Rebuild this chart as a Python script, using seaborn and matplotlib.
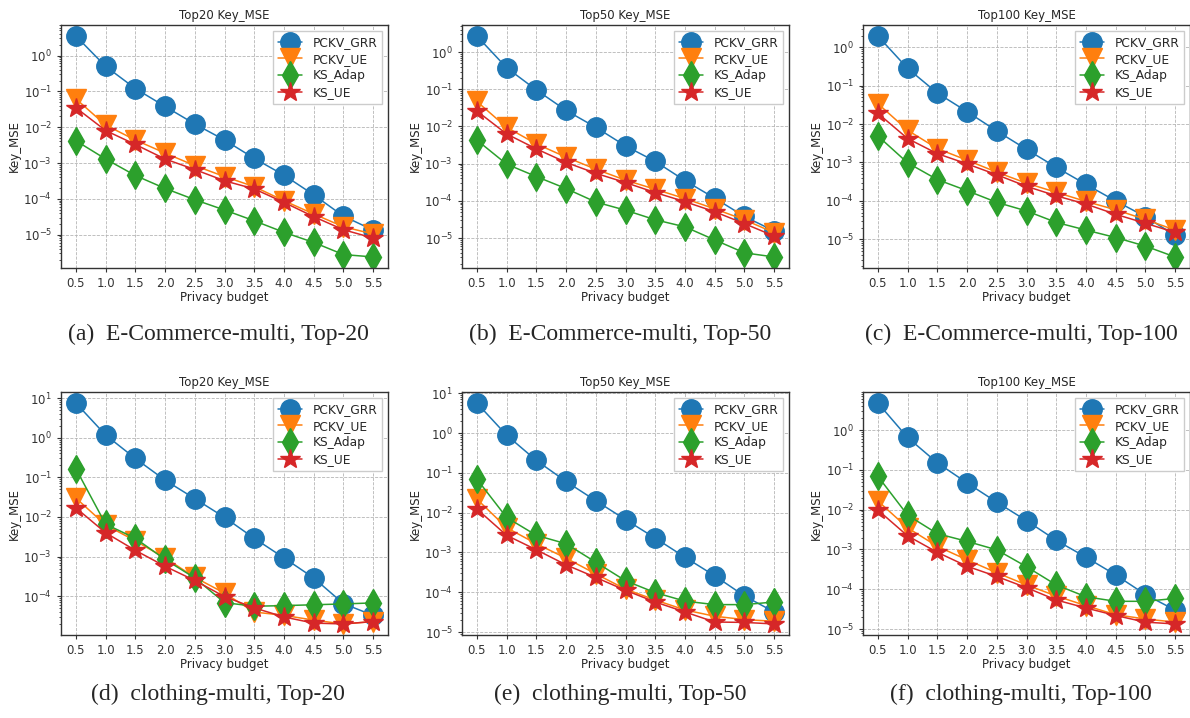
import numpy as np
import pandas as pd
import seaborn as sns
import matplotlib
matplotlib.use("Agg")
import matplotlib.pyplot as plt

# privacy budget (x axis)
eps = [0.5, 1.0, 1.5, 2.0, 2.5, 3.0, 3.5, 4.0, 4.5, 5.0, 5.5]
methods = ['PCKV_GRR', 'PCKV_UE', 'KS_Adap', 'KS_UE']

# E-Commerce-multi
ecom20_grr = [3.5, 0.5, 0.12, 0.038, 0.0123, 0.0044, 0.00135, 4.6e-4, 1.3e-4, 3.3e-5, 1.35e-5]
ecom20_ue = [0.062, 0.0115, 0.0044, 0.0019, 8.5e-4, 4.2e-4, 2.2e-4, 8.9e-5, 3.8e-5, 1.67e-5, 1.05e-5]
ecom20_adap = [0.0042, 0.0013, 4.5e-4, 1.96e-4, 9.5e-5, 4.9e-5, 2.45e-5, 1.17e-5, 6.1e-6, 2.8e-6, 2.4e-6]
ecom20_ksue = [0.035, 0.0081, 0.0033, 0.0013, 6.6e-4, 3.2e-4, 1.9e-4, 8.0e-5, 3.2e-5, 1.38e-5, 8.1e-6]

ecom50_grr = [2.7, 0.38, 0.096, 0.027, 0.0095, 0.003, 0.00115, 3.5e-4, 1.18e-4, 3.8e-5, 1.55e-5]
ecom50_ue = [0.047, 0.0095, 0.0034, 0.0015, 7.1e-4, 3.6e-4, 2.05e-4, 1.15e-4, 6.1e-5, 3.1e-5, 1.39e-5]
ecom50_adap = [0.0043, 9.7e-4, 4.5e-4, 2.14e-4, 9.3e-5, 5.6e-5, 3.1e-5, 2.0e-5, 8.9e-6, 4.0e-6, 3.1e-6]
ecom50_ksue = [0.026, 0.0063, 0.0025, 0.00108, 5.5e-4, 3.1e-4, 1.67e-4, 9.5e-5, 5.1e-5, 2.44e-5, 1.13e-5]

ecom100_grr = [1.94, 0.28, 0.064, 0.021, 0.0066, 0.0022, 7.5e-4, 2.7e-4, 1.0e-4, 3.9e-5, 1.27e-5]
ecom100_ue = [0.034, 0.0069, 0.0023, 0.00115, 5.6e-4, 2.9e-4, 1.68e-4, 9.7e-5, 5.9e-5, 3.3e-5, 1.75e-5]
ecom100_adap = [0.0049, 9.8e-4, 3.6e-4, 1.85e-4, 9.2e-5, 5.5e-5, 2.77e-5, 1.75e-5, 1.12e-5, 6.7e-6, 3.5e-6]
ecom100_ksue = [0.019, 0.0042, 0.0017, 9.2e-4, 4.8e-4, 2.4e-4, 1.36e-4, 8.3e-5, 4.5e-5, 2.63e-5, 1.52e-5]

# clothing-multi
cloth20_grr = [7.5, 1.17, 0.30, 0.085, 0.029, 0.0098, 0.0029, 9.3e-4, 2.9e-4, 6.5e-5, 3.3e-5]
cloth20_ue = [0.030, 0.0063, 0.0025, 9.3e-4, 3.0e-4, 1.2e-4, 4.0e-5, 3.3e-5, 2.5e-5, 2.0e-5, 2.3e-5]
cloth20_adap = [0.165, 0.0066, 0.0029, 8.5e-4, 2.9e-4, 6.9e-5, 5.6e-5, 5.8e-5, 6.1e-5, 6.4e-5, 6.8e-5]
cloth20_ksue = [0.017, 0.004, 0.00144, 5.7e-4, 2.5e-4, 9.8e-5, 5.1e-5, 3.0e-5, 2.1e-5, 2.0e-5, 2.3e-5]

cloth50_grr = [5.7, 0.89, 0.206, 0.061, 0.020, 0.0067, 0.0023, 7.6e-4, 2.6e-4, 8.1e-5, 3.2e-5]
cloth50_ue = [0.022, 0.0042, 0.00166, 7.2e-4, 2.9e-4, 1.2e-4, 6.4e-5, 3.6e-5, 2.5e-5, 2.06e-5, 1.87e-5]
cloth50_adap = [0.070, 0.0076, 0.0027, 0.00166, 5.7e-4, 1.95e-4, 9.8e-5, 6.0e-5, 4.9e-5, 4.9e-5, 5.7e-5]
cloth50_ksue = [0.0124, 0.0027, 0.00117, 4.9e-4, 2.36e-4, 1.12e-4, 5.7e-5, 3.2e-5, 1.79e-5, 1.75e-5, 1.6e-5]

cloth100_grr = [4.76, 0.65, 0.15, 0.047, 0.0154, 0.0053, 0.0017, 6.4e-4, 2.3e-4, 7.4e-5, 3.0e-5]
cloth100_ue = [0.0166, 0.0035, 0.0012, 5.5e-4, 2.6e-4, 1.29e-4, 6.8e-5, 3.9e-5, 2.3e-5, 1.8e-5, 1.5e-5]
cloth100_adap = [0.069, 0.0073, 0.0025, 0.0016, 9.8e-4, 3.7e-4, 1.29e-4, 6.5e-5, 5.0e-5, 5.0e-5, 5.9e-5]
cloth100_ksue = [0.0098, 0.0022, 8.5e-4, 3.8e-4, 2.1e-4, 1.1e-4, 5.4e-5, 3.4e-5, 2.2e-5, 1.5e-5, 1.35e-5]

titles = ['Top20 Key_MSE', 'Top50 Key_MSE', 'Top100 Key_MSE'] * 2
captions = ['(a)  E-Commerce-multi, Top-20', '(b)  E-Commerce-multi, Top-50',
            '(c)  E-Commerce-multi, Top-100', '(d)  clothing-multi, Top-20',
            '(e)  clothing-multi, Top-50', '(f)  clothing-multi, Top-100']

panels = [
    [ecom20_grr, ecom20_ue, ecom20_adap, ecom20_ksue],
    [ecom50_grr, ecom50_ue, ecom50_adap, ecom50_ksue],
    [ecom100_grr, ecom100_ue, ecom100_adap, ecom100_ksue],
    [cloth20_grr, cloth20_ue, cloth20_adap, cloth20_ksue],
    [cloth50_grr, cloth50_ue, cloth50_adap, cloth50_ksue],
    [cloth100_grr, cloth100_ue, cloth100_adap, cloth100_ksue],
]

colors = ['#1f77b4', '#ff7f0e', '#2ca02c', '#d62728']
markers = ['o', 'v', 'd', '*']
msizes = [14, 14, 14, 15]

sns.set_theme(style='ticks')
plt.rcParams['font.family'] = ['DejaVu Sans']
plt.rcParams['axes.edgecolor'] = '#333333'
plt.rcParams['xtick.color'] = '#333333'
plt.rcParams['ytick.color'] = '#333333'

W, H = 1190, 718
fig = plt.figure(figsize=(W / 100, H / 100), dpi=100)

lefts = [61, 462, 863]
tops = [25, 392]
aw, ah = 327, 243
cap_x = [218, 620, 1021]
cap_y = [334, 694]

for i, series in enumerate(panels):
    r, c = divmod(i, 3)
    ax = fig.add_axes([lefts[c] / W, 1 - (tops[r] + ah) / H, aw / W, ah / H])
    for name, vals, col, mk, ms in zip(methods, series, colors, markers, msizes):
        df = pd.DataFrame({'eps': eps, 'mse': vals})
        sns.lineplot(data=df, x='eps', y='mse', ax=ax, color=col, marker=mk,
                     markersize=ms, markeredgecolor=col, markeredgewidth=1,
                     linewidth=1.1, label=name)
    ax.set_yscale('log')
    ax.set_xticks(eps)
    ax.set_xticklabels([f'{e:.1f}' for e in eps])
    ax.tick_params(axis='both', labelsize=8.5, length=3, width=0.8)
    ax.tick_params(axis='y', which='minor', length=1.8, width=0.6)
    ax.grid(True, which='major', linestyle='--', color='#b5b5b5', linewidth=0.6)
    ax.set_title(titles[i], fontsize=8.5, pad=4)
    ax.set_xlabel('Privacy budget', fontsize=8.5, labelpad=1)
    ax.set_ylabel('Key_MSE', fontsize=8.5, labelpad=2)
    ax.legend(loc='upper right', fontsize=8.8, frameon=True, fancybox=False,
              edgecolor='#cccccc', framealpha=1, borderpad=0.4, labelspacing=0.3)
    for s in ax.spines.values():
        s.set_linewidth(1.0)
    fig.text(cap_x[c] / W, 1 - cap_y[r] / H, captions[i], ha='center', va='center',
             fontsize=17, family=['Liberation Serif', 'DejaVu Serif'])

fig.savefig('out.png', dpi=100)
